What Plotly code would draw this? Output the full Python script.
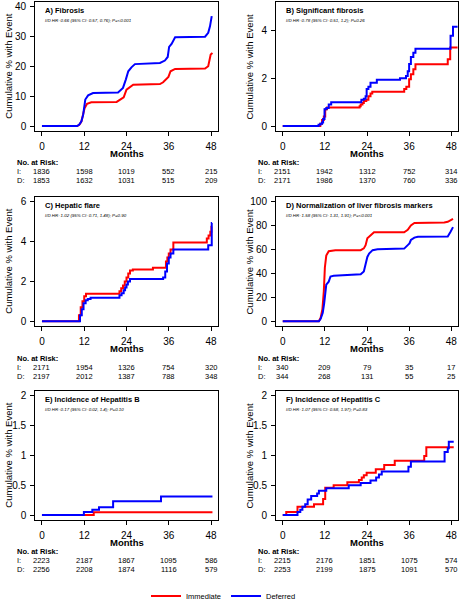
import plotly.graph_objects as go

# ---------------- data ----------------
month_ticks = [0, 12, 24, 36, 48]

panel_titles = ["A) Fibrosis", "B) Significant fibrosis", "C) Hepatic flare",
                "D) Normalization of liver fibrosis markers",
                "E) Incidence of Hepatitis B", "F) Incidence of Hepatitis C"]
panel_stats = ["I/D HR: 0.66 (95% CI: 0.57, 0.76); P=<0.001",
               "I/D HR: 0.78 (95% CI: 0.51, 1.2); P=0.26",
               "I/D HR: 1.02 (95% CI: 0.71, 1.48); P=0.90",
               "I/D HR: 1.58 (95% CI: 1.31, 1.91); P=<0.001",
               "I/D HR: 0.17 (95% CI: 0.02, 1.4); P=0.10",
               "I/D HR: 1.07 (95% CI: 0.58, 1.97); P=0.83"]

# A) Fibrosis
a_imm_t = [0, 10.0, 10.6, 11.2, 11.7, 12.1, 12.8, 14.0, 21.2, 22.3, 23.2, 24.0, 25.0, 25.9,
           33.5, 34.4, 35.9, 36.5, 37.8, 46.3, 47.2, 47.9, 48.4]
a_imm_v = [0, 0, 0.4, 1.5, 4.0, 6.0, 7.5, 8.0, 8.1, 8.9, 9.6, 12.2, 13.1, 13.9,
           14.1, 14.7, 16.5, 18.4, 19.2, 19.3, 20.1, 24.0, 24.5]
a_def_t = [0, 10.0, 10.6, 11.2, 11.7, 12.0, 12.3, 13.1, 14.5, 21.6, 23.0, 23.8, 24.5, 25.4, 26.4,
           33.5, 34.9, 35.7, 36.1, 36.8, 37.8, 46.3, 47.2, 47.7, 48.2]
a_def_v = [0, 0, 0.5, 1.6, 3.8, 6.6, 8.9, 10.3, 11.1, 11.3, 12.8, 15.6, 18.4, 19.7, 20.8,
           21.2, 22.0, 23.2, 26.6, 27.6, 29.8, 30.0, 31.3, 33.5, 36.9]

# B) Significant fibrosis
b_imm_t = [0, 10.7, 11.2, 11.7, 12.1, 12.6, 21.9, 22.2, 22.7, 23.1, 23.8, 24.4, 25.0, 25.5,
           34.6, 35.2, 36.0, 36.5, 37.2, 37.8, 47.0, 47.7, 49.8]
b_imm_v = [0, 0.1, 0.25, 0.4, 0.7, 0.78, 0.83, 0.9, 0.97, 1.05, 1.1, 1.25, 1.37, 1.44,
           1.56, 1.65, 1.96, 2.17, 2.38, 2.59, 2.8, 3.3, 3.3]
b_def_t = [0, 10.2, 10.7, 11.2, 11.5, 11.9, 12.4, 13.1, 13.8, 22.4, 23.1, 23.6, 23.9, 24.4, 25.0,
           26.8, 33.4, 35.1, 35.6, 36.0, 36.5, 37.2, 37.8, 47.8, 48.5, 49.8]
b_def_v = [0, 0.05, 0.1, 0.15, 0.3, 0.7, 0.76, 0.9, 1.0, 1.1, 1.15, 1.25, 1.56, 1.65, 1.82,
           1.94, 2.01, 2.1, 2.3, 2.6, 2.9, 3.08, 3.25, 3.79, 4.17, 4.17]

# C) Hepatic flare
c_imm_t = [0, 10.5, 11.0, 11.5, 12.0, 12.5, 22.0, 22.5, 23.0, 23.5, 24.0, 24.5, 25.0, 25.8,
           31.5, 35.2, 35.6, 36.0, 36.5, 37.3, 46.8, 47.3, 47.8, 48.1, 48.3]
c_imm_v = [0, 0.3, 0.7, 1.0, 1.25, 1.38, 1.5, 1.65, 1.8, 2.0, 2.2, 2.4, 2.55, 2.6,
           2.68, 3.0, 3.2, 3.4, 3.6, 3.95, 4.15, 4.3, 4.5, 4.75, 4.75]
c_def_t = [0, 10.8, 11.3, 11.8, 12.4, 13.0, 13.8, 22.0, 22.6, 23.2, 23.6, 24.0, 24.4, 25.0,
           34.4, 35.0, 35.5, 36.0, 36.5, 37.3, 47.2, 48.2, 48.3]
c_def_v = [0, 0.3, 0.6, 0.9, 1.05, 1.12, 1.18, 1.3, 1.4, 1.55, 1.7, 1.85, 2.0, 2.12,
           2.2, 2.5, 2.9, 3.2, 3.4, 3.6, 3.82, 4.93, 4.93]

# D) Normalization of liver fibrosis markers
d_imm_t = [0, 10.3, 10.8, 11.3, 11.7, 12.0, 12.4, 13.1, 15.0, 22.2, 23.1, 23.6, 24.1, 25.1, 26.0,
           34.6, 35.6, 36.5, 37.5, 46.0, 47.0, 48.5]
d_imm_v = [0, 0, 3, 10, 25, 45, 55, 58.6, 59.5, 59.5, 61, 63.7, 69.4, 71.7, 74.5,
           74.5, 76.5, 80.2, 82.2, 82.6, 83.2, 85.6]
d_def_t = [0, 10.3, 10.8, 11.4, 11.8, 12.1, 12.4, 13.1, 13.6, 14.5, 22.2, 23.1, 23.6, 24.1, 24.6,
           25.6, 27.0, 34.6, 35.6, 36.1, 36.5, 37.5, 38.5, 47.0, 47.8, 48.5]
d_def_v = [0, 0, 2, 7, 15, 25, 30.6, 33.1, 37.4, 38, 39.3, 41.6, 48, 53.8, 56.7,
           59.5, 60.3, 60.8, 63.7, 65.2, 68, 70, 70.8, 71, 75, 78.8]

# E) Incidence of Hepatitis B
e_imm_t = [0, 14.7, 48.4]
e_imm_v = [0, 0.045, 0.045]
e_def_t = [0, 11.9, 14.3, 16.2, 20.2, 33.8, 48.4]
e_def_v = [0, 0.05, 0.09, 0.13, 0.23, 0.31, 0.31]

# F) Incidence of Hepatitis C
f_imm_t = [0, 1.0, 4.2, 8.9, 11.5, 12.1, 14.5, 18.4, 21.7, 22.5, 23.1, 23.9, 26.5, 28.9,
           31.9, 40.3, 40.9, 48.7]
f_imm_v = [0, 0.05, 0.14, 0.18, 0.27, 0.46, 0.5, 0.55, 0.59, 0.63, 0.67, 0.71, 0.77, 0.84,
           0.91, 0.99, 1.14, 1.14]
f_def_t = [0, 4.2, 5.0, 5.6, 6.4, 7.1, 8.1, 9.8, 10.3, 12.4, 18.8, 22.2, 25.0, 26.6, 27.4,
           28.2, 35.8, 36.5, 46.1, 47.0, 47.3, 48.7]
f_def_v = [0, 0.05, 0.09, 0.14, 0.18, 0.26, 0.32, 0.36, 0.41, 0.45, 0.5, 0.54, 0.58, 0.63, 0.68,
           0.73, 0.81, 0.9, 1.06, 1.12, 1.23, 1.23]

# Numbers at risk (at months 0, 12, 24, 36, 48)
risk_imm = [[1836, 1598, 1019, 552, 215],
            [2151, 1942, 1312, 752, 314],
            [2171, 1954, 1326, 754, 320],
            [340, 209, 79, 35, 17],
            [2223, 2187, 1867, 1095, 586],
            [2215, 2176, 1851, 1075, 574]]
risk_def = [[1853, 1632, 1031, 515, 209],
            [2171, 1986, 1370, 760, 336],
            [2197, 2012, 1387, 788, 348],
            [344, 268, 131, 55, 25],
            [2256, 2208, 1874, 1116, 579],
            [2253, 2199, 1875, 1091, 570]]

y_ranges = [[-1.6, 41.6], [-0.2, 5.2], [-0.24, 6.24], [-4, 104], [-0.08, 2.08], [-0.08, 2.08]]
y_ticks = [[0, 10, 20, 30, 40], [0, 2, 4], [0, 2, 4, 6], [0, 20, 40, 60, 80, 100],
           [0, 0.5, 1, 1.5, 2], [0, 0.5, 1, 1.5, 2]]

series = [(a_imm_t, a_imm_v, a_def_t, a_def_v, "linear"),
          (b_imm_t, b_imm_v, b_def_t, b_def_v, "hv"),
          (c_imm_t, c_imm_v, c_def_t, c_def_v, "hv"),
          (d_imm_t, d_imm_v, d_def_t, d_def_v, "linear"),
          (e_imm_t, e_imm_v, e_def_t, e_def_v, "hv"),
          (f_imm_t, f_imm_v, f_def_t, f_def_v, "hv")]

# ---------------- layout geometry ----------------
W, H = 459, 600
FONT = "Liberation Sans, Arial, Helvetica, sans-serif"
RED = "#FF0000"
BLUE = "#0000FF"

col_px = [(35.2, 217.8), (276.0, 458.0)]
row_px = [(2.2, 130.8), (197.0, 326.0), (391.2, 519.8)]


def px_x(x):
    return x / W


def px_y(y):
    return 1 - y / H


fig = go.Figure()
layout = dict(template="none", width=W, height=H, margin=dict(l=0, r=0, t=0, b=0, autoexpand=False),
              paper_bgcolor="white", plot_bgcolor="white",
              font=dict(family=FONT, size=10, color="black"),
              showlegend=True)
annotations = []

for i in range(6):
    r, c = divmod(i, 2)
    k = i + 1
    xs = "" if k == 1 else str(k)
    x0, x1 = col_px[c]
    ytop, ybot = row_px[r]
    it, iv, dt, dv, shape = series[i]
    fig.add_trace(go.Scatter(x=it, y=iv, mode="lines", name="Immediate",
                             line=dict(color=RED, width=2, shape=shape),
                             xaxis="x" + xs, yaxis="y" + xs,
                             showlegend=(i == 0), legendgroup="imm"))
    fig.add_trace(go.Scatter(x=dt, y=dv, mode="lines", name="Deferred",
                             line=dict(color=BLUE, width=2, shape=shape),
                             xaxis="x" + xs, yaxis="y" + xs,
                             showlegend=(i == 0), legendgroup="def"))
    axis_common = dict(showline=True, mirror=True, linecolor="black", linewidth=1,
                       ticks="outside", ticklen=4, tickcolor="black", tickwidth=1,
                       showgrid=False, zeroline=False, fixedrange=True, automargin=False,
                       tickfont=dict(size=10, family=FONT, color="black"))
    layout["xaxis" + xs] = dict(domain=[px_x(x0), px_x(x1)], range=[-1.92, 49.92],
                                tickmode="array", tickvals=month_ticks,
                                anchor="y" + xs, ticklabelstandoff=2, **axis_common)
    layout["yaxis" + xs] = dict(domain=[px_y(ybot), px_y(ytop)], range=y_ranges[i],
                                tickmode="array", tickvals=y_ticks[i],
                                anchor="x" + xs, ticklabelstandoff=2, **axis_common)

    # panel title and stats
    annotations.append(dict(text="<b>" + panel_titles[i] + "</b>", xref="paper", yref="paper",
                            x=px_x(x0 + 7.5), y=px_y(ytop + 8.5), xanchor="left", yanchor="middle",
                            showarrow=False, font=dict(size=7.5, family=FONT)))
    annotations.append(dict(text="<i>" + panel_stats[i] + "</i>", xref="paper", yref="paper",
                            x=px_x(x0 + 7.5), y=px_y(ytop + 18.5), xanchor="left", yanchor="middle",
                            showarrow=False, font=dict(size=4.4, family=FONT)))
    # y-axis title
    annotations.append(dict(text="Cumulative % with Event", xref="paper", yref="paper",
                            x=px_x(x0 - 27), y=px_y((ytop + ybot) / 2), textangle=-90,
                            xanchor="center", yanchor="middle", showarrow=False,
                            font=dict(size=9.5, family=FONT)))
    # x-axis title
    annotations.append(dict(text="<b>Months</b>", xref="x" + xs + " domain", yref="paper",
                            x=0.5, y=px_y(ybot + 22.5), xanchor="center", yanchor="middle",
                            showarrow=False, font=dict(size=9.5, family=FONT)))
    # risk table
    lab_x = 15 if c == 0 else 256
    annotations.append(dict(text="<b>No. at Risk:</b>", xref="paper", yref="paper",
                            x=px_x(lab_x), y=px_y(ybot + 32), xanchor="left", yanchor="middle",
                            showarrow=False, font=dict(size=7.5, family=FONT)))
    for lab, row, dy in (("I:", risk_imm[i], 41), ("D:", risk_def[i], 50)):
        annotations.append(dict(text=lab, xref="paper", yref="paper",
                                x=px_x(lab_x), y=px_y(ybot + dy), xanchor="left", yanchor="middle",
                                showarrow=False, font=dict(size=7.5, family=FONT)))
        for m, n in zip(month_ticks, row):
            annotations.append(dict(text=str(n), xref="x" + xs, yref="paper",
                                    x=m, y=px_y(ybot + dy), xanchor="center", yanchor="middle",
                                    showarrow=False, font=dict(size=7.5, family=FONT)))

layout["annotations"] = annotations
layout["legend"] = dict(orientation="h", x=px_x(146), y=px_y(596), xanchor="left",
                        yanchor="middle", font=dict(size=7.5, family=FONT),
                        bgcolor="rgba(0,0,0,0)", itemwidth=30, tracegroupgap=0)
fig.update_layout(**layout)
fig.write_html("out.html", config={"displayModeBar": False},
               post_script="document.body.style.margin='0';document.body.style.padding='0';"
                           "document.body.style.overflow='hidden';")
